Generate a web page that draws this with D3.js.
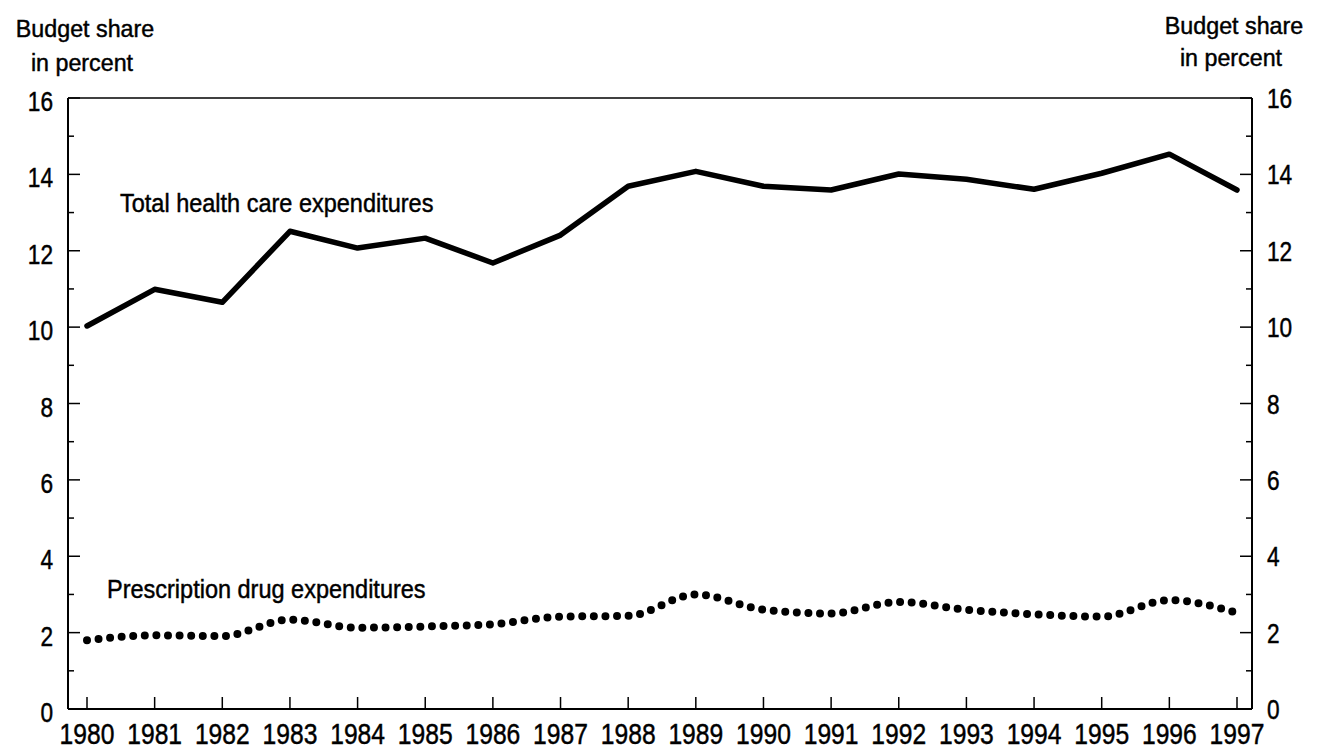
<!DOCTYPE html>
<html lang="en">
<head>
<meta charset="UTF-8" />
<title>Budget share</title>
<script src="https://d3js.org/d3.v7.min.js"></script>
<style>
  body { margin: 0; background: #fff; }
  svg text { font-family: "Liberation Sans", Arial, sans-serif; fill: #000; stroke: #000; stroke-width: 0.45px; }
</style>
</head>
<body>
<div id="chart"></div>
<script>
// data
const years = [1980, 1981, 1982, 1983, 1984, 1985, 1986, 1987, 1988, 1989,
               1990, 1991, 1992, 1993, 1994, 1995, 1996, 1997];
const totalHealth = [10.03, 10.99, 10.65, 12.51, 12.07, 12.33, 11.68, 12.41, 13.69,
                     14.08, 13.69, 13.59, 14.01, 13.87, 13.61, 14.03, 14.53, 13.59];
const drugs = [1.8, 1.93, 1.91, 2.34, 2.13, 2.16, 2.22, 2.42, 2.44,
               3.0, 2.6, 2.5, 2.8, 2.6, 2.48, 2.42, 2.85, 2.52];
const yTicks = [0, 2, 4, 6, 8, 10, 12, 14, 16];
const yMinor = [1, 3, 5, 7, 9, 11, 13, 15];
const axisTitle = ["Budget share", "in percent"];
const seriesLabels = ["Total health care expenditures", "Prescription drug expenditures"];

const W = 1321, H = 749;
const frame = { left: 68, right: 1252, top: 98, bottom: 709 };

const svg = d3.select("#chart").append("svg")
  .attr("width", W).attr("height", H);

const x = d3.scaleLinear().domain([1980, 1997]).range([87, 1237]);
const y = d3.scaleLinear().domain([0, 16]).range([frame.bottom, frame.top]);

// narrow text helper: the original type is a condensed sans
function label(tx, ty, str, size, sx, anchor) {
  return svg.append("text")
    .attr("transform", `translate(${tx},${ty}) scale(${sx},1)`)
    .attr("text-anchor", anchor || "start")
    .attr("font-size", size)
    .text(str);
}

// frame lines
const g = svg.append("g").attr("stroke", "#000").attr("stroke-width", 2);
g.append("line").attr("x1", frame.left).attr("x2", frame.right)
  .attr("y1", frame.top).attr("y2", frame.top).attr("stroke-width", 1.5);
g.append("line").attr("x1", frame.left).attr("x2", frame.right)
  .attr("y1", frame.bottom).attr("y2", frame.bottom);
g.append("line").attr("x1", frame.left).attr("x2", frame.left)
  .attr("y1", frame.top).attr("y2", frame.bottom);
g.append("line").attr("x1", frame.right).attr("x2", frame.right)
  .attr("y1", frame.top).attr("y2", frame.bottom);

// y ticks, both sides, pointing in
const ticks = svg.append("g").attr("stroke", "#000").attr("stroke-width", 1.5);
yTicks.concat(yMinor).forEach(v => {
  const len = yTicks.includes(v) ? 12 : 6;
  ticks.append("line").attr("x1", frame.left).attr("x2", frame.left + len)
    .attr("y1", y(v)).attr("y2", y(v));
  ticks.append("line").attr("x1", frame.right).attr("x2", frame.right - len)
    .attr("y1", y(v)).attr("y2", y(v));
});
// x ticks pointing up
years.forEach(yr => {
  ticks.append("line").attr("x1", x(yr)).attr("x2", x(yr))
    .attr("y1", frame.bottom).attr("y2", frame.bottom - 12);
});

// tick labels
yTicks.forEach(v => {
  label(53, y(v) + 13, v, 27, 0.84, "end");
  label(1267, y(v) + 10, v, 27, 0.84, "start");
});
years.forEach(yr => {
  label(x(yr), 744, yr, 29, 0.85, "middle");
});

// axis titles
[[85, 37, 71], [1234, 34, 66]].forEach(([cx, y1, y2]) => {
  label(cx, y1, axisTitle[0], 24, 0.97, "middle");
  label(cx - 3, y2, axisTitle[1], 24, 0.97, "middle");
});

// lines
const lineTotal = d3.line().x((d, i) => x(years[i])).y(d => y(d));
svg.append("path").datum(totalHealth)
  .attr("d", lineTotal)
  .attr("fill", "none").attr("stroke", "#000").attr("stroke-width", 5.5)
  .attr("stroke-linejoin", "round").attr("stroke-linecap", "round");

const lineDrug = d3.line().x((d, i) => x(years[i])).y(d => y(d)).curve(d3.curveMonotoneX);
svg.append("path").datum(drugs)
  .attr("d", lineDrug)
  .attr("fill", "none").attr("stroke", "#000").attr("stroke-width", 8)
  .attr("stroke-linecap", "round").attr("stroke-dasharray", "0 11.6");

// series labels
label(120, 212, seriesLabels[0], 25, 0.94);
label(107, 598, seriesLabels[1], 25, 0.94);
</script>
</body>
</html>
